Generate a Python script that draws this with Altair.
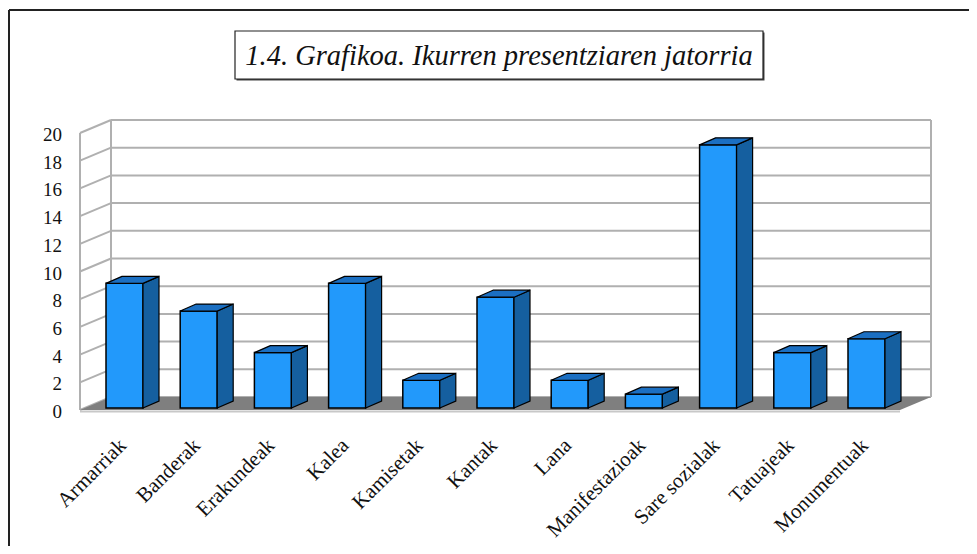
import altair as alt
import pandas as pd

# ---------------- data ----------------
categories = ["Armarriak", "Banderak", "Erakundeak", "Kalea", "Kamisetak", "Kantak",
              "Lana", "Manifestazioak", "Sare sozialak", "Tatuajeak", "Monumentuak"]
values = [9, 7, 4, 9, 2, 8, 2, 1, 19, 4, 5]
y_ticks = [0, 2, 4, 6, 8, 10, 12, 14, 16, 18, 20]
title_text = "1.4. Grafikoa. Ikurren presentziaren jatorria"

# ---------------- geometry (pixels) ----------------
W, H = 851, 290
PAD_L, PAD_T, PAD_R, PAD_B = 72, 112, 38, 136
SPACING = 74.2        # px between category centres
FIRST = 44.5          # px from front-left corner to first bar centre
WALL_DX, WALL_DY = 31, 13
BAR_W, BAR_DX, BAR_DY, BAR_LIFT = 37, 16, 7, 2
Y_MAX = y_ticks[-1]

k = (H - WALL_DY) / Y_MAX
x_min = -FIRST / SPACING
x_max = x_min + W / SPACING
y_top = Y_MAX + WALL_DY / k
wx = WALL_DX / SPACING
wz = WALL_DY / k
x_front_right = x_max - wx
bw = BAR_W / SPACING / 2
bdx = BAR_DX / SPACING
bdz = BAR_DY / k
lift = BAR_LIFT / k

xs = alt.Scale(domain=[x_min, x_max], nice=False, zero=False)
ys = alt.Scale(domain=[0, y_top], nice=False, zero=False)

FONT = "'Liberation Serif', 'Times New Roman', serif"
FRONT = "#2299fb"
SIDE = "#155f9f"
TOP = "#1b6fc2"
GRID = "#b0b0b0"
TXT = "#111111"

# ---------------- walls / grid ----------------
grid_rows = []
for v in y_ticks:
    grid_rows.append({"x": x_min + wx, "x2": x_max, "y": v + wz, "y2": v + wz})
    grid_rows.append({"x": x_min, "x2": x_min + wx, "y": v, "y2": v + wz})
grid_rows.append({"x": x_min, "x2": x_min, "y": 0, "y2": Y_MAX})
grid_rows.append({"x": x_min + wx, "x2": x_min + wx, "y": wz, "y2": y_top})
grid_rows.append({"x": x_max, "x2": x_max, "y": wz, "y2": y_top})
grid_df = pd.DataFrame(grid_rows)

grid = alt.Chart(grid_df).mark_rule(color=GRID, strokeWidth=2).encode(
    x=alt.X("x:Q", scale=xs, axis=None), x2="x2:Q",
    y=alt.Y("y:Q", scale=ys, axis=None), y2="y2:Q")

floor_df = pd.DataFrame([
    {"y": 0, "x": x_min, "x2": x_front_right},
    {"y": wz, "x": x_min + wx, "x2": x_max},
])
floor = alt.Chart(floor_df).mark_area(color="#7f7f7f", orient="horizontal").encode(
    y=alt.Y("y:Q", scale=ys, axis=None),
    x=alt.X("x:Q", scale=xs, axis=None, stack=None), x2="x2:Q")

floor_edge = alt.Chart(pd.DataFrame([{"x": x_min, "x2": x_front_right, "y": 0}])).mark_rule(
    color="#c8c8c8", strokeWidth=2, yOffset=1.5).encode(
    x=alt.X("x:Q", scale=xs, axis=None), x2="x2:Q",
    y=alt.Y("y:Q", scale=ys, axis=None))

# ---------------- bars ----------------
front_rows, side_rows, top_rows = [], [], []
for i, (c, v) in enumerate(zip(categories, values)):
    lo, hi = i - bw, i + bw
    base, top = lift, v + lift
    front_rows.append({"cat": c, "idx": i, "lo": lo, "hi": hi, "base": base, "top": top})
    side_rows.append({"cat": c, "x": hi, "y": base, "y2": top})
    side_rows.append({"cat": c, "x": hi + bdx, "y": base + bdz, "y2": top + bdz})
    top_rows.append({"cat": c, "y": top, "x": lo, "x2": hi})
    top_rows.append({"cat": c, "y": top + bdz, "x": lo + bdx, "x2": hi + bdx})

front_df = pd.DataFrame(front_rows)

front = alt.Chart(front_df).mark_rect(
    fill=FRONT, stroke="#000000", strokeWidth=1.5).encode(
    x=alt.X("lo:Q", scale=xs, axis=None), x2="hi:Q",
    y=alt.Y("base:Q", scale=ys, axis=None), y2="top:Q")

side = alt.Chart(pd.DataFrame(side_rows)).mark_area(
    fill=SIDE, stroke="#000000", strokeWidth=1.2, orient="vertical").encode(
    x=alt.X("x:Q", scale=xs, axis=None),
    y=alt.Y("y:Q", scale=ys, axis=None, stack=None), y2="y2:Q",
    detail="cat:N")

topf = alt.Chart(pd.DataFrame(top_rows)).mark_area(
    fill=TOP, stroke="#000000", strokeWidth=1.2, orient="horizontal").encode(
    y=alt.Y("y:Q", scale=ys, axis=None),
    x=alt.X("x:Q", scale=xs, axis=None, stack=None), x2="x2:Q",
    detail="cat:N")

# ---------------- axis labels (text) ----------------
ylab_df = pd.DataFrame({"v": y_ticks, "xx": [x_min] * len(y_ticks)})
ylabels = alt.Chart(ylab_df).mark_text(
    font=FONT, fontSize=19, color=TXT, align="right", baseline="middle",
    dx=-18, dy=2).encode(
    x=alt.X("xx:Q", scale=xs, axis=None),
    y=alt.Y("v:Q", scale=ys, axis=None),
    text=alt.Text("v:Q"))

xlab_df = pd.DataFrame({"cat": categories, "idx": list(range(len(categories))),
                        "yy": [0] * len(categories)})
# dx/dy act in the rotated frame: (-23.5, 23.5) moves the anchor ~33px straight down
xlabels = alt.Chart(xlab_df).mark_text(
    font=FONT, fontSize=21, color=TXT, align="right", baseline="middle",
    angle=315, dx=-24, dy=22).encode(
    x=alt.X("idx:Q", scale=xs, axis=None),
    y=alt.Y("yy:Q", scale=ys, axis=None),
    text="cat:N")

# ---------------- frame & title ----------------
one = pd.DataFrame({"t": [title_text]})
frame_v = alt.Chart(one).mark_rule(color="#222222", strokeWidth=2).encode(
    x=alt.value(-71), y=alt.value(-110), y2=alt.value(H + PAD_B))
frame_h = alt.Chart(one).mark_rule(color="#222222", strokeWidth=2).encode(
    x=alt.value(-71), x2=alt.value(W + PAD_R), y=alt.value(-110))

box_shadow = alt.Chart(one).mark_rect(fill="#444444").encode(
    x=alt.value(156.5), x2=alt.value(684.5), y=alt.value(-87.5), y2=alt.value(-39.5))
box = alt.Chart(one).mark_rect(fill="#ffffff", stroke="#222222", strokeWidth=1.2).encode(
    x=alt.value(155), x2=alt.value(683), y=alt.value(-89), y2=alt.value(-41))
title = alt.Chart(one).mark_text(
    font=FONT, fontSize=28.5, fontStyle="italic", color=TXT,
    align="center", baseline="middle").encode(
    x=alt.value(419), y=alt.value(-64), text="t:N")

chart = alt.layer(
    grid, floor, floor_edge, front, side, topf, ylabels, xlabels,
    frame_v, frame_h, box_shadow, box, title
).properties(
    width=W, height=H,
    autosize=alt.AutoSizeParams(type="none"),
    padding={"left": PAD_L, "top": PAD_T, "right": PAD_R, "bottom": PAD_B},
    background="#ffffff",
).configure_view(stroke=None)

chart.save("out.html", embed_options={"renderer": "svg", "actions": False})
